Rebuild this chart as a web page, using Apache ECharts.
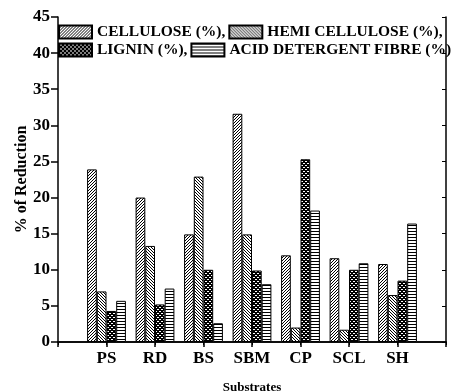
<!DOCTYPE html>
<html>
<head>
<meta charset="utf-8">
<script src="https://cdn.jsdelivr.net/npm/echarts@6/dist/echarts.min.js"></script>
<style>html,body{margin:0;padding:0;background:#fff}#c{width:453px;height:392px}</style>
</head>
<body>
<div id="c"></div>
<script>
const categories = ['PS', 'RD', 'BS', 'SBM', 'CP', 'SCL', 'SH'];
const cellulose = [23.9, 20.0, 14.9, 31.6, 12.0, 11.6, 10.8];
const hemiCellulose = [7.0, 13.3, 22.9, 14.9, 2.0, 1.7, 6.5];
const lignin = [4.3, 5.2, 10.0, 9.9, 25.3, 10.0, 8.5];
const adf = [5.7, 7.4, 2.6, 8.0, 18.2, 10.9, 16.4];
const seriesNames = ['CELLULOSE (%),', 'HEMI CELLULOSE (%),', 'LIGNIN (%),', 'ACID DETERGENT FIBRE (%)'];
const yTicks = { min: 0, max: 45, interval: 5 };

function makePattern(size, pixels, bg) {
  const cv = document.createElement('canvas');
  cv.width = size; cv.height = size;
  const ctx = cv.getContext('2d');
  ctx.fillStyle = bg; ctx.fillRect(0, 0, size, size);
  ctx.fillStyle = bg === '#000' ? '#fff' : '#000';
  pixels.forEach(p => ctx.fillRect(p[0], p[1], 1, 1));
  return { image: cv, repeat: 'repeat' };
}
const patCell = makePattern(3, [[0, 2], [1, 1], [2, 0]], '#fff');
const patHemi = makePattern(3, [[0, 0], [1, 1], [2, 2]], '#fff');
const patLig = makePattern(4, [[1, 1], [3, 3], [0, 3], [2, 1]], '#000');
const patAdf = makePattern(3, [[0, 0], [1, 0], [2, 0]], '#fff');
const patterns = [patCell, patHemi, patLig, patAdf];
const values = [cellulose, hemiCellulose, lignin, adf];

const axisCats = [''].concat(categories, ['']);
const FONT = 'Liberation Serif';
const lineStyle = { color: '#000', width: 1.5 };

const chart = echarts.init(document.getElementById('c'), null, { renderer: 'canvas' });
chart.setOption({
  animation: false,
  backgroundColor: '#fff',
  grid: { left: 58, right: 7, top: 17, bottom: 50, containLabel: false, outerBoundsMode: 'none' },
  legend: [
    { data: [seriesNames[0], seriesNames[1]], left: 58, top: 24, itemGap: 3, itemWidth: 33, itemHeight: 13, icon: 'rect', padding: 0,
      textStyle: { fontFamily: FONT, fontWeight: 'bold', fontSize: 15.5, color: '#000' } },
    { data: [seriesNames[2], seriesNames[3]], left: 58, top: 42, itemGap: 3, itemWidth: 33, itemHeight: 13, icon: 'rect', padding: 0,
      textStyle: { fontFamily: FONT, fontWeight: 'bold', fontSize: 15.5, color: '#000' } }
  ],
  xAxis: [
    { type: 'category', data: axisCats, boundaryGap: false, position: 'bottom',
      axisLine: { lineStyle: lineStyle },
      axisTick: { show: true, interval: 0, length: 5, inside: false, lineStyle: { color: '#000', width: 1.5 } },
      axisLabel: { interval: 0, margin: 8, fontFamily: FONT, fontWeight: 'bold', fontSize: 17, color: '#000' },
      name: 'Substrates', nameLocation: 'middle', nameGap: 39, nameMoveOverlap: false,
      nameTextStyle: { fontFamily: FONT, fontWeight: 'bold', fontSize: 13, color: '#000' },
      splitLine: { show: false } },
    { type: 'category', data: axisCats, boundaryGap: false, position: 'top',
      axisLine: { lineStyle: lineStyle },
      axisTick: { show: true, interval: 0, length: 3, inside: true, lineStyle: { color: '#000', width: 1 } },
      axisLabel: { show: false }, splitLine: { show: false } }
  ],
  yAxis: [
    { type: 'value', min: yTicks.min, max: yTicks.max, interval: yTicks.interval, position: 'left',
      axisLine: { show: true, lineStyle: lineStyle },
      axisTick: { show: true, length: 7, inside: false, lineStyle: { color: '#000', width: 1.5 } },
      axisLabel: { margin: 8, fontFamily: FONT, fontWeight: 'bold', fontSize: 17, color: '#000' },
      splitLine: { show: false },
      name: '% of Reduction', nameLocation: 'middle', nameGap: 28, nameMoveOverlap: false,
      nameTextStyle: { fontFamily: FONT, fontWeight: 'bold', fontSize: 16, color: '#000' } },
    { type: 'value', min: yTicks.min, max: yTicks.max, interval: yTicks.interval, position: 'right',
      axisLine: { show: true, lineStyle: lineStyle },
      axisTick: { show: true, length: 4, inside: true, lineStyle: { color: '#000', width: 1 } },
      axisLabel: { show: false }, splitLine: { show: false } }
  ],
  series: values.map((vals, i) => ({
    name: seriesNames[i],
    type: 'bar',
    xAxisIndex: 0, yAxisIndex: 0,
    barGap: 0, barCategoryGap: '20%',
    data: ['-'].concat(vals, ['-']),
    itemStyle: { color: patterns[i], borderColor: '#000', borderWidth: 1 }
  }))
});
</script>
</body>
</html>
